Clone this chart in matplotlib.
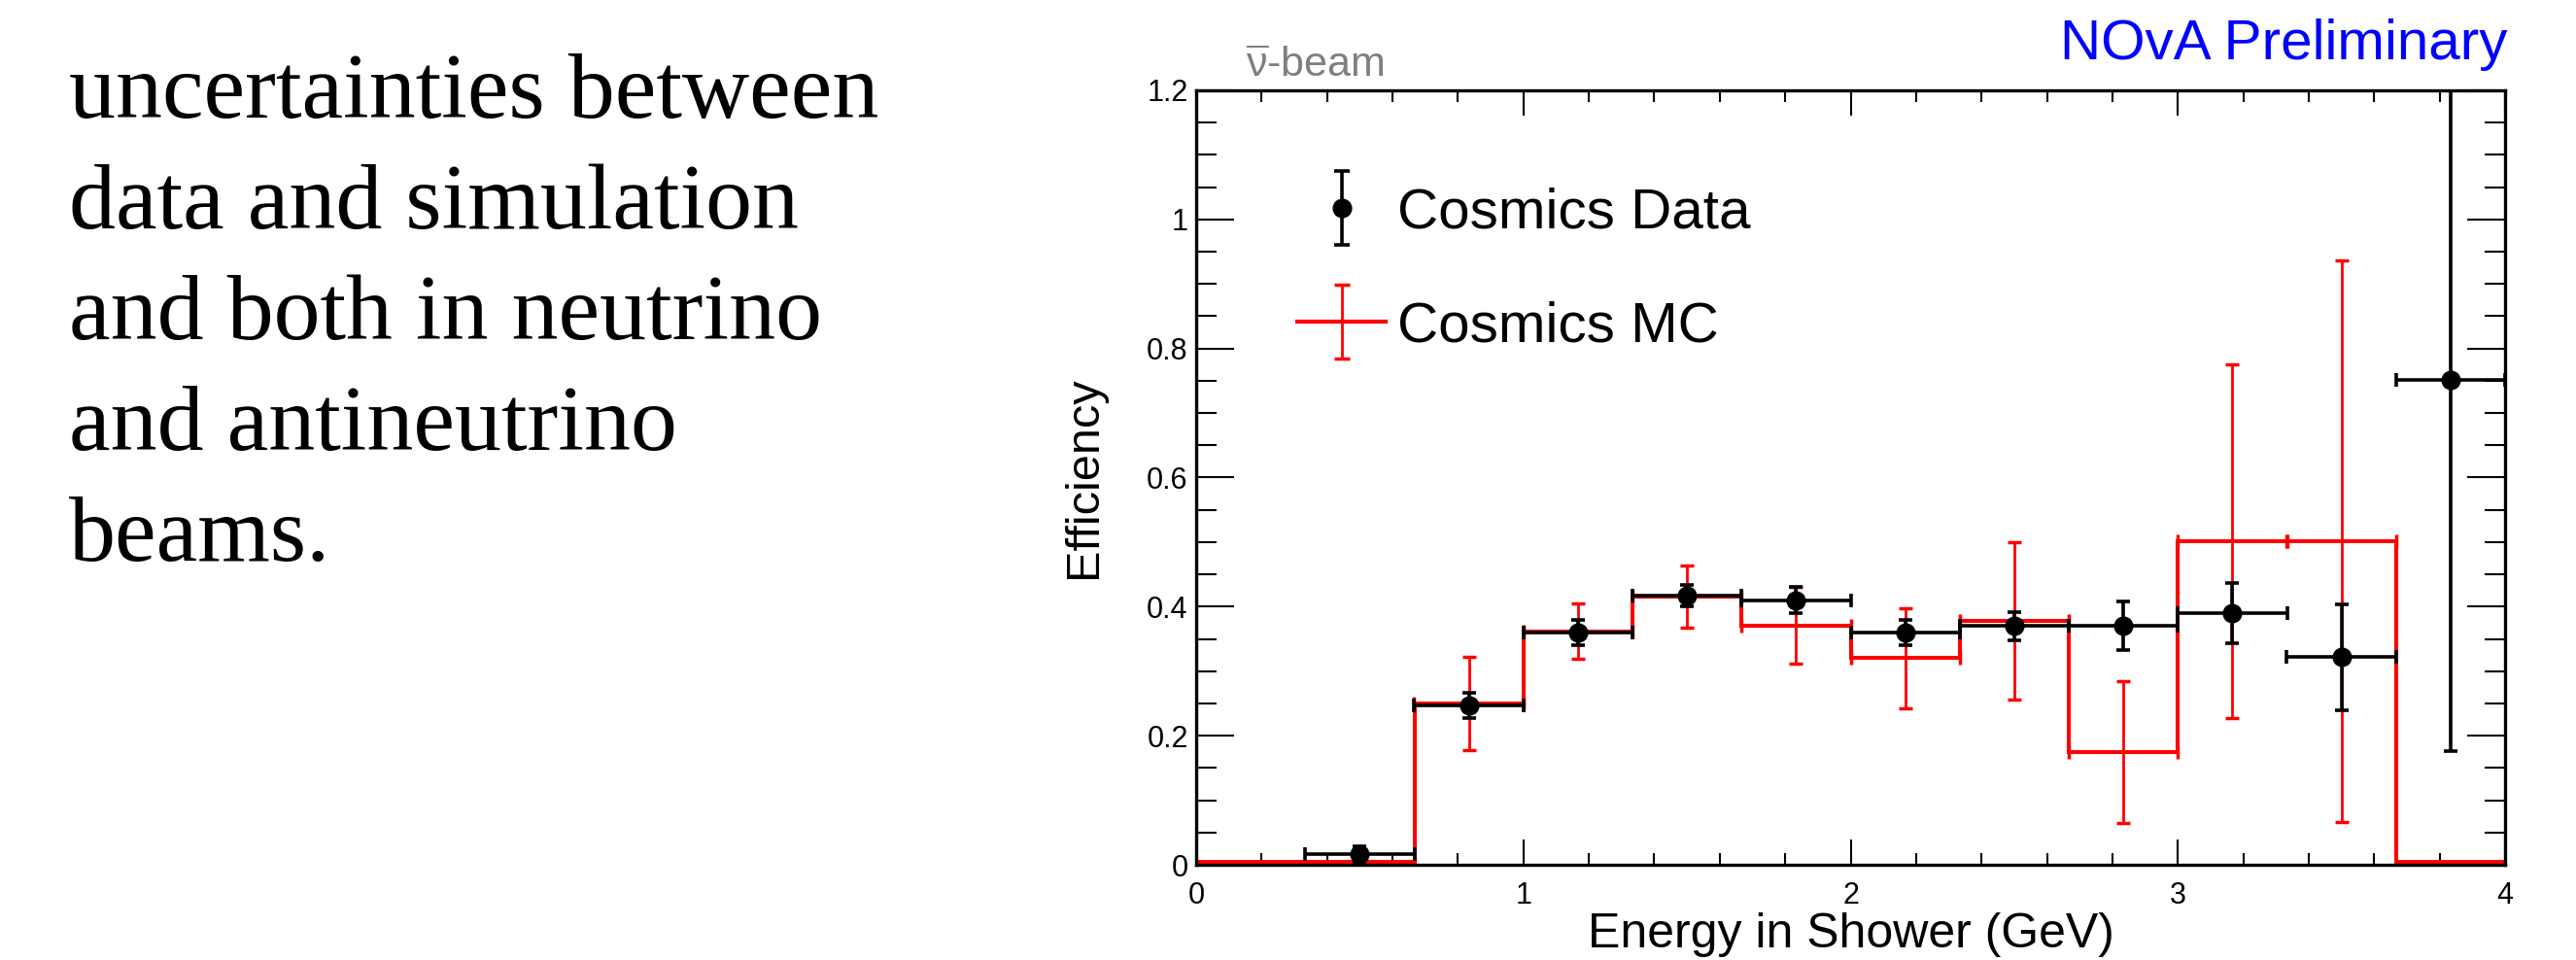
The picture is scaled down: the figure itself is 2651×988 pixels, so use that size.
import numpy as np
import matplotlib
matplotlib.use("Agg")
import matplotlib.pyplot as plt
from matplotlib.ticker import MultipleLocator, FuncFormatter
from matplotlib.lines import Line2D
from matplotlib.legend_handler import HandlerErrorbar
from matplotlib import font_manager

# ---- data ----
bin_edges = [0.0, 0.3333, 0.6667, 1.0, 1.3333, 1.6667, 2.0, 2.3333, 2.6667, 3.0, 3.3333, 3.6667, 4.0]
bin_centers = [0.1667, 0.5, 0.8333, 1.1667, 1.5, 1.8333, 2.1667, 2.5, 2.8333, 3.1667, 3.5, 3.8333]
half_width = [0.1667] * 12

# Cosmics Data (first bin empty)
data_eff = [np.nan, 0.016, 0.247, 0.36, 0.417, 0.41, 0.36, 0.37, 0.37, 0.39, 0.322, 0.752]
data_err = [0.0, 0.012, 0.02, 0.02, 0.016, 0.02, 0.02, 0.022, 0.038, 0.046, 0.082, 0.576]

# Cosmics MC
mc_eff = [0.004, 0.004, 0.25, 0.362, 0.415, 0.371, 0.32, 0.378, 0.175, 0.501, 0.501, 0.004]
mc_err = [0.0, 0.0, 0.072, 0.043, 0.048, 0.059, 0.077, 0.122, 0.11, 0.274, 0.435, 0.0]

text_lines = ["uncertainties between", "data and simulation", "and both in neutrino",
              "and antineutrino", "beams."]

W, H = 2651, 988
plt.rcParams['font.family'] = ['Liberation Sans', 'DejaVu Sans']
plt.rcParams['mathtext.fontset'] = 'custom'
plt.rcParams['mathtext.rm'] = 'Liberation Sans'
plt.rcParams['mathtext.it'] = 'Liberation Sans:italic'

names = {f.name for f in font_manager.fontManager.ttflist}
narrow = 'Liberation Sans Narrow' in names

fig = plt.figure(figsize=(W / 100, H / 100), dpi=100)
ax = fig.add_axes([1231 / W, 1 - 890 / H, (2578 - 1231) / W, (890 - 93) / H])

x = np.array(bin_centers)
xe = np.array(half_width)

# MC: step histogram + error crosses
ax.stairs(mc_eff, bin_edges, baseline=None, color='red', lw=2.9, zorder=2)
mc_e = np.array(mc_err)
m = mc_e > 0
ax.errorbar(x[m], np.array(mc_eff)[m], xerr=xe[m], yerr=mc_e[m], fmt='none',
            ecolor='red', elinewidth=2.0, capsize=5, capthick=2.5, zorder=3)

# data points
d = np.array(data_eff)
dm = ~np.isnan(d)
ax.errorbar(x[dm], d[dm], xerr=xe[dm], yerr=np.array(data_err)[dm], fmt='o',
            color='black', ms=13.5, elinewidth=2.6, capsize=5, capthick=2.6, zorder=4)

ax.set_xlim(0, 4)
ax.set_ylim(0, 1.2)
ax.xaxis.set_major_locator(MultipleLocator(1))
ax.xaxis.set_minor_locator(MultipleLocator(0.2))
ax.yaxis.set_major_locator(MultipleLocator(0.2))
ax.yaxis.set_minor_locator(MultipleLocator(0.05))
ax.yaxis.set_major_formatter(FuncFormatter(lambda v, p: '%g' % round(v, 2)))
ax.xaxis.set_major_formatter(FuncFormatter(lambda v, p: '%g' % v))

ax.tick_params(axis='both', which='both', direction='in', top=True, right=True,
               labelsize=22, width=1.5)
ax.tick_params(axis='x', which='major', length=19, pad=12)
ax.tick_params(axis='x', which='minor', length=8.5)
ax.tick_params(axis='y', which='major', length=28, pad=6)
ax.tick_params(axis='y', which='minor', length=15)
for s in ax.spines.values():
    s.set_linewidth(2.4)

ax.set_xlabel('Energy in Shower (GeV)', fontsize=36, labelpad=2)
ax.set_ylabel('Efficiency', fontsize=35, labelpad=30)

# legend
h_data = ax.errorbar([np.nan], [np.nan], yerr=[0.1], fmt='o', color='black', ms=13.5,
                     elinewidth=2.6, capsize=6, capthick=2.6)
h_mc_v = ax.errorbar([np.nan], [np.nan], yerr=[0.1], fmt='none', ecolor='red',
                     elinewidth=2.0, capsize=6, capthick=2.5)
h_mc_h = Line2D([], [], color='red', lw=3)
leg = ax.legend([h_data, (h_mc_h, h_mc_v)], ['Cosmics Data', 'Cosmics MC'],
                loc='upper left', bbox_to_anchor=(0.077, 0.875), frameon=False,
                fontsize=42, handlelength=1.57, handletextpad=0.2, labelspacing=1.07,
                borderpad=0, borderaxespad=0,
                handler_map={h_data: HandlerErrorbar(yerr_size=0.65),
                             h_mc_v: HandlerErrorbar(yerr_size=0.65)})

# header texts
fig.text(2580 / W, 1 - 61 / H, 'NOvA Preliminary', ha='right', va='baseline',
         color='#0000ff', fontsize=48 if narrow else 42,
         family='Liberation Sans Narrow' if narrow else 'Liberation Sans')
fig.text(1282 / W, 1 - 79 / H, r'$\overline{\mathrm{\nu}}$-beam', ha='left', va='baseline',
         color='#7f7f7f', fontsize=31)

# slide text on the left
for i, line in enumerate(text_lines):
    fig.text(71 / W, 1 - (121 + 114 * i) / H, line, ha='left', va='baseline',
             fontsize=69, family=['Liberation Serif', 'DejaVu Serif'])

fig.savefig('out.png', dpi=100, facecolor='white')
